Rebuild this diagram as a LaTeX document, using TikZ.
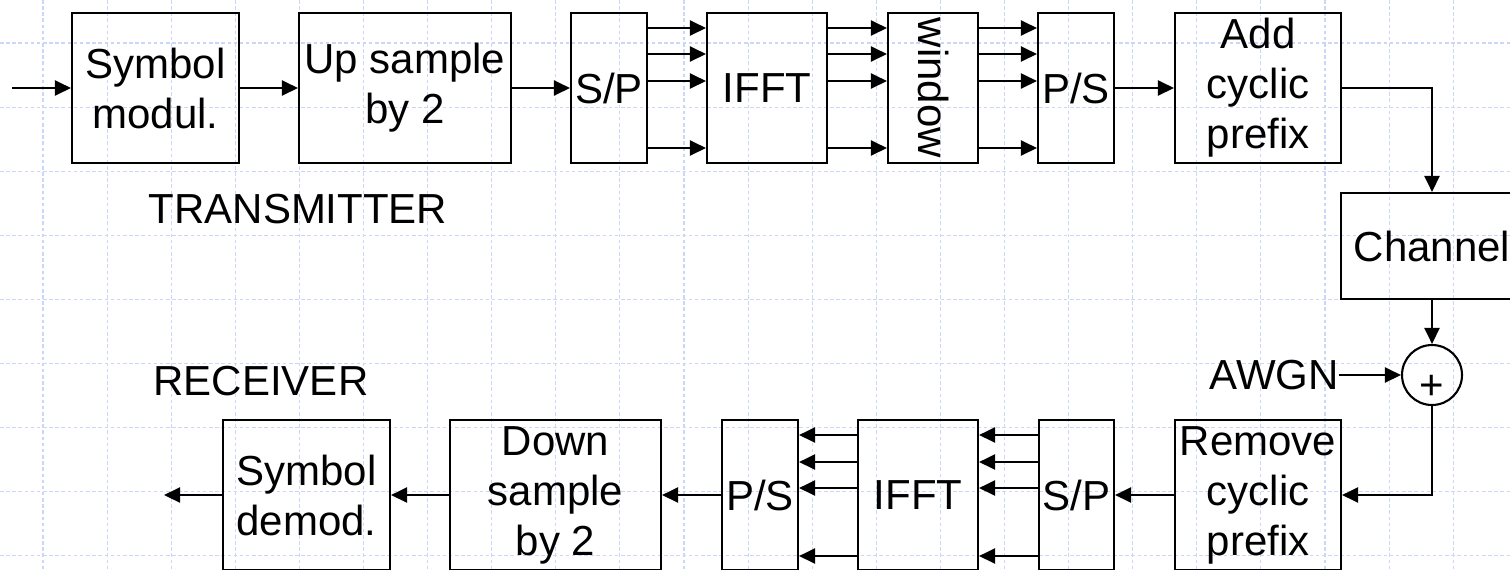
\documentclass[tikz,border=0pt]{standalone}
\usepackage{fontspec}
\setmainfont{Liberation Sans}
\usetikzlibrary{arrows.meta,positioning,calc}
\definecolor{gridblue}{RGB}{204,214,246}

\begin{document}
\begin{tikzpicture}[
    x=0.02cm, y=-0.02cm,
    block/.style={rectangle, draw=black, line width=1.2pt, minimum height=3cm, inner sep=0pt, align=center, font=\fontsize{23.9}{28.45}\selectfont},
    arrow/.style={-{Triangle[length=0.32cm, width=0.3cm]}, line width=1.25pt},
    tag/.style={font=\fontsize{23.9}{28.45}\selectfont, inner sep=0pt},
    gridline/.style={draw=gridblue, line width=0.6pt, dash pattern=on 2pt off 1.5pt}
]

\useasboundingbox (0,0) rectangle (1510,569);
\clip (0,0) rectangle (1510,569);

% Background grid
\foreach \i in {0,...,22} \draw[gridline] ({43+64.1*\i},0) -- ({43+64.1*\i},569);
\foreach \j in {0,...,8} \draw[gridline] (0,{43+64.1*\j}) -- (1510,{43+64.1*\j});

% Transmitter
\node[block, minimum width=3.34cm] (symmod) at (155.5,88) {Symbol\\modul.};
\node[block, minimum width=4.24cm] (upsamp) at (405,88) {Up sample\\by 2};
\node[block, minimum width=1.52cm] (sptx) at (609,88) {S/P};
\node[block, minimum width=2.4cm] (ifftx) at (767,88) {IFFT};
\node[block, minimum width=1.8cm] (win) at (933,88) {\rotatebox{-90}{window}};
\node[block, minimum width=1.52cm] (pstx) at (1076,88) {P/S};
\node[block, minimum width=3.32cm] (addcp) at (1258,88) {Add\\cyclic\\prefix};
\node[tag] (txlabel) at (298,209) {TRANSMITTER};

% Channel
\node[block, minimum width=3.64cm, minimum height=2.12cm] (channel) at (1432,246) {Channel};
\node[circle, draw, line width=1.2pt, minimum size=1.2cm, inner sep=0pt, text height=0.96cm, font=\fontsize{23.9}{28.45}\selectfont] (sum) at (1432,375) {+};
\node[tag, anchor=east] (awgn) at (1339,375) {AWGN};

% Receiver
\node[block, minimum width=3.32cm] (rmcp) at (1258,495) {Remove\\cyclic\\prefix};
\node[block, minimum width=1.5cm] (sprx) at (1076.5,495) {S/P};
\node[block, minimum width=2.4cm] (ifftrx) at (918,495) {IFFT};
\node[block, minimum width=1.52cm] (psrx) at (760,495) {P/S};
\node[block, minimum width=4.22cm] (downsamp) at (555.5,495) {Down\\sample\\by 2};
\node[block, minimum width=3.34cm] (symdemod) at (306.5,495) {Symbol\\demod.};
\node[tag] (rxlabel) at (261,381) {RECEIVER};

\coordinate (src) at (12,88);
\coordinate (sink) at (164,495);

% Signal flow
\draw[arrow] (src) -- (symmod);
\draw[arrow] (symmod) -- (upsamp);
\draw[arrow] (upsamp) -- (sptx);
\foreach \yy in {28,54,81,148} {
    \draw[arrow] (sptx.east |- 0,\yy) -- (ifftx.west |- 0,\yy);
    \draw[arrow] (ifftx.east |- 0,\yy) -- (win.west |- 0,\yy);
    \draw[arrow] (win.east |- 0,\yy) -- (pstx.west |- 0,\yy);
}
\draw[arrow] (pstx) -- (addcp);
\draw[arrow] (addcp.east) -| (channel.north);
\draw[arrow] (channel) -- (sum);
\draw[arrow] (awgn) -- (sum);
\draw[arrow] (sum.south) |- (rmcp.east);
\draw[arrow] (rmcp) -- (sprx);
\foreach \yy in {435,462,488,556} {
    \draw[arrow] (sprx.west |- 0,\yy) -- (ifftrx.east |- 0,\yy);
    \draw[arrow] (ifftrx.west |- 0,\yy) -- (psrx.east |- 0,\yy);
}
\draw[arrow] (psrx) -- (downsamp);
\draw[arrow] (downsamp) -- (symdemod);
\draw[arrow] (symdemod) -- (sink);

\end{tikzpicture}
\end{document}
